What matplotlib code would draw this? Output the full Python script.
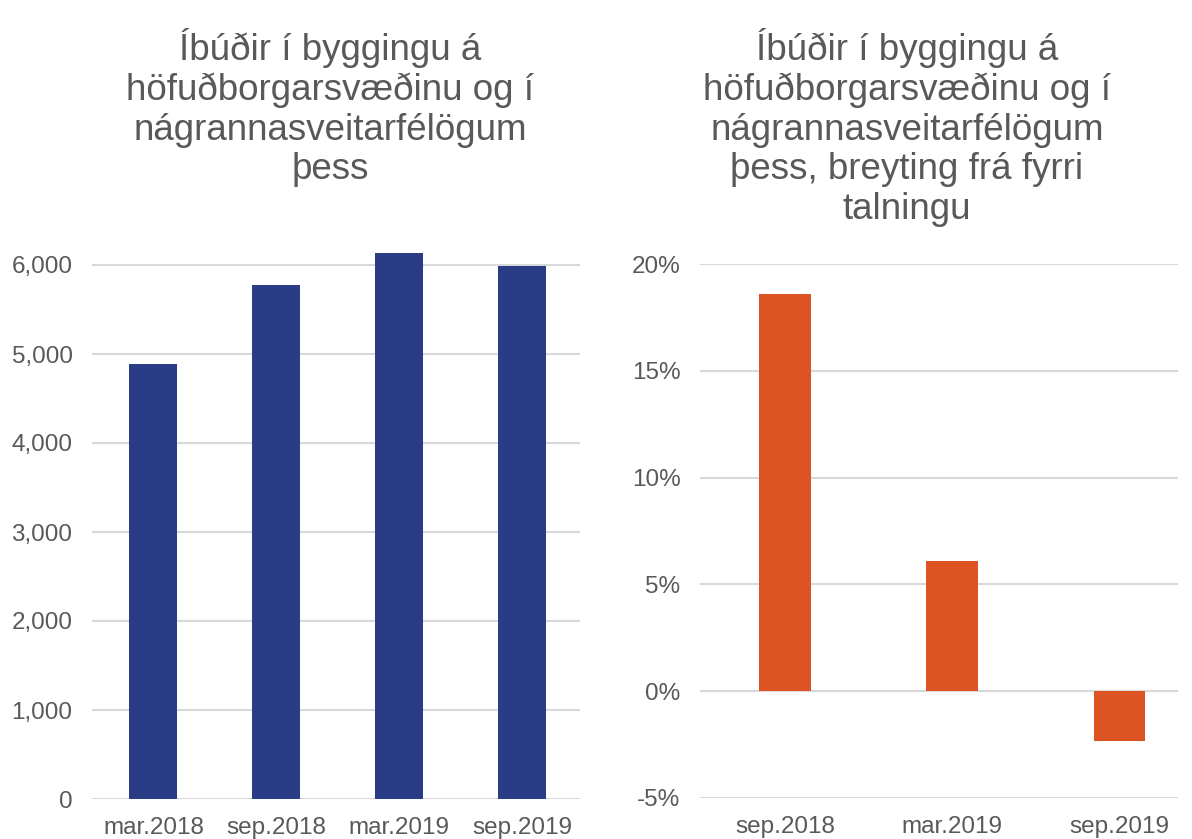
import matplotlib
matplotlib.use("Agg")
import matplotlib.pyplot as plt
from matplotlib.ticker import FuncFormatter

plt.rcParams["font.family"] = ["Liberation Sans", "DejaVu Sans"]
plt.rcParams["axes.unicode_minus"] = False

# ---------- Data ----------
periods = ["mar.2018", "sep.2018", "mar.2019", "sep.2019"]
units = [4890, 5780, 6130, 5990]

change_periods = ["sep.2018", "mar.2019", "sep.2019"]
change_pct = [18.6, 6.1, -2.35]

left_title = "Íbúðir í byggingu á\nhöfuðborgarsvæðinu og í\nnágrannasveitarfélögum\nþess"
right_title = ("Íbúðir í byggingu á\nhöfuðborgarsvæðinu og í\nnágrannasveitarfélögum\n"
               "þess, breyting frá fyrri\ntalningu")

BLUE = "#2a3c86"
ORANGE = "#dc5324"
GRID = "#d9d9d9"
TEXT = "#595959"

W, H = 1192, 839
fig = plt.figure(figsize=(W / 100, H / 100), dpi=100)


def px_axes(x0, x1, y_top, y_bot):
    return fig.add_axes([x0 / W, 1 - y_bot / H, (x1 - x0) / W, (y_bot - y_top) / H])


def style(ax):
    for s in ax.spines.values():
        s.set_visible(False)
    ax.tick_params(length=0, labelsize=17.5, colors=TEXT, pad=14)
    ax.tick_params(axis="x", pad=13)
    ax.grid(axis="y", color=GRID, linewidth=1.5)
    ax.set_axisbelow(True)


# ---------- Left panel ----------
ax1 = px_axes(92, 580, 799 - 6200 * 0.0890, 799)
ax1.bar(range(len(periods)), units, width=0.39, color=BLUE)
ax1.set_xlim(-0.5, 3.47)
ax1.set_ylim(0, 6200)
ax1.set_yticks(range(0, 6001, 1000))
ax1.yaxis.set_major_formatter(FuncFormatter(lambda v, p: f"{v:,.0f}"))
ax1.set_xticks(range(len(periods)))
ax1.set_xticklabels(periods)
style(ax1)
fig.text(330 / W, 1 - 28 / H, left_title, ha="center", va="top",
         fontsize=26.5, color=TEXT, linespacing=1.17)

# ---------- Right panel ----------
ax2 = px_axes(700, 1178, 264, 798)
ax2.bar(range(len(change_periods)), change_pct, width=0.31, color=ORANGE)
ax2.set_xlim(-0.51, 2.35)
ax2.set_ylim(-5, 20)
ax2.set_yticks(range(-5, 21, 5))
ax2.yaxis.set_major_formatter(FuncFormatter(lambda v, p: f"{v:.0f}%"))
ax2.set_xticks(range(len(change_periods)))
ax2.set_xticklabels(change_periods)
style(ax2)
fig.text(907 / W, 1 - 28 / H, right_title, ha="center", va="top",
         fontsize=26.5, color=TEXT, linespacing=1.17)

fig.savefig("out.png", dpi=100, facecolor="white")
